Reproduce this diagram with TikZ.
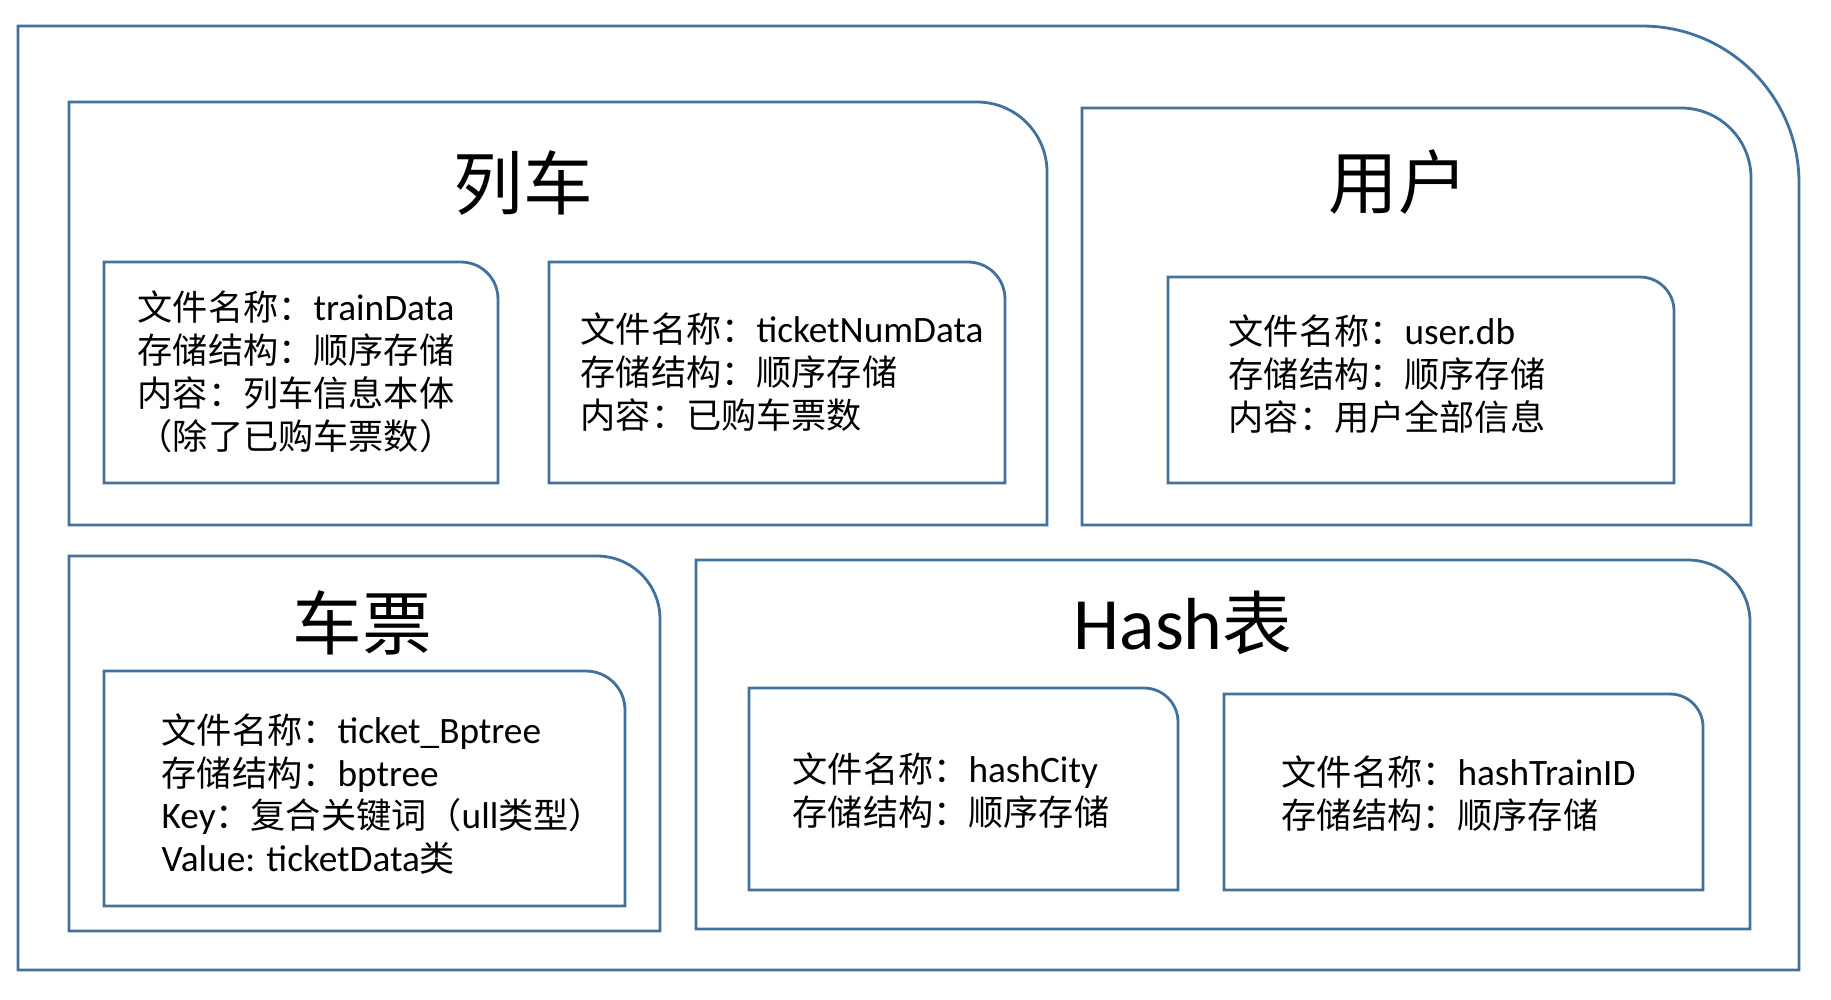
\documentclass[tikz,border=0pt]{standalone}
\usepackage{fontspec}
\setmainfont{Noto Sans CJK SC}
\newfontfamily\latin{Carlito}[Scale=1.06]
\definecolor{boxblue}{RGB}{65,113,156}

\begin{document}
\begin{tikzpicture}[
  x=0.01cm, y=-0.01cm,
  box/.style={draw=boxblue, line width=0.8pt},
  title/.style={font=\fontsize{19.8}{23}\selectfont, inner sep=0pt},
  info/.style={font=\fontsize{10}{12.2}\selectfont, align=left, anchor=west, inner sep=0pt}
]
  \useasboundingbox (0,0) rectangle (1831,999);
  % outer frame
  \draw[box] (18,970) -- (18,26) -- (1642,26) arc[start angle=-90,end angle=0,radius=157] -- (1799,970) -- cycle;

  % train
  \draw[box] (69,525) -- (69,102) -- (977,102) arc[start angle=-90,end angle=0,radius=70] -- (1047,525) -- cycle;
  \node[title] (trainTitle) at (523,183) {列车};
  \draw[box] (104,483) -- (104,262) -- (461,262) arc[start angle=-90,end angle=0,radius=37] -- (498,483) -- cycle;
  \node[info] (trainInfo) at (137,372) {文件名称：{\latin trainData}\\存储结构：顺序存储\\内容：列车信息本体\\（除了已购车票数）};
  \draw[box] (549,483) -- (549,262) -- (968,262) arc[start angle=-90,end angle=0,radius=37] -- (1005,483) -- cycle;
  \node[info] (ticketNumInfo) at (580,372) {文件名称：{\latin ticketNumData}\\存储结构：顺序存储\\内容：已购车票数};

  % user
  \draw[box] (1082,525) -- (1082,108) -- (1681,108) arc[start angle=-90,end angle=0,radius=70] -- (1751,525) -- cycle;
  \node[title] (userTitle) at (1398,182) {用户};
  \draw[box] (1168,483) -- (1168,277) -- (1640,277) arc[start angle=-90,end angle=0,radius=34] -- (1674,483) -- cycle;
  \node[info] (userInfo) at (1228,374) {文件名称：{\latin user.db}\\存储结构：顺序存储\\内容：用户全部信息};

  % ticket
  \draw[box] (69,931) -- (69,556) -- (597,556) arc[start angle=-90,end angle=0,radius=63] -- (660,931) -- cycle;
  \node[title] (ticketTitle) at (362,623) {车票};
  \draw[box] (104,906) -- (104,671) -- (586,671) arc[start angle=-90,end angle=0,radius=39] -- (625,906) -- cycle;
  \node[info] (ticketInfo) at (161,794) {文件名称：{\latin ticket\_Bptree}\\存储结构：{\latin bptree}\\{\latin Key}：复合关键词（{\latin ull}类型）\\{\latin Value: ticketData}类};

  % hash
  \draw[box] (696,929) -- (696,560) -- (1688,560) arc[start angle=-90,end angle=0,radius=62] -- (1750,929) -- cycle;
  \node[title] (hashTitle) at (1183,623) {{\latin Hash}表};
  \draw[box] (749,890) -- (749,688) -- (1144,688) arc[start angle=-90,end angle=0,radius=34] -- (1178,890) -- cycle;
  \node[info] (cityInfo) at (792,791) {文件名称：{\latin hashCity}\\存储结构：顺序存储};
  \draw[box] (1224,890) -- (1224,694) -- (1670,694) arc[start angle=-90,end angle=0,radius=33] -- (1703,890) -- cycle;
  \node[info] (trainIdInfo) at (1281,794) {文件名称：{\latin hashTrainID}\\存储结构：顺序存储};
\end{tikzpicture}
\end{document}
